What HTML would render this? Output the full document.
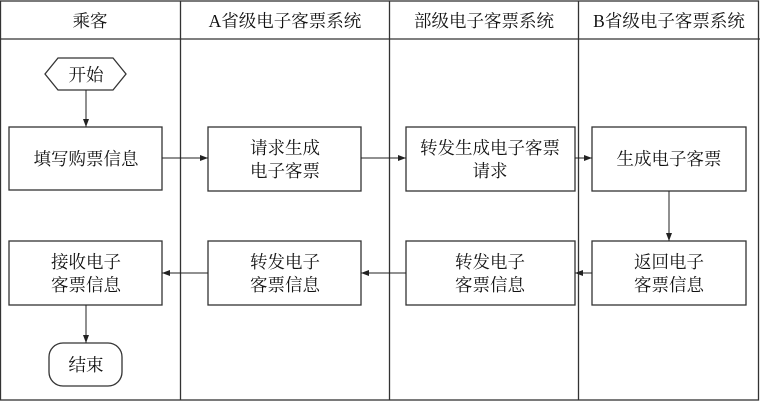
<!DOCTYPE html><html><head><meta charset="utf-8"><style>body{margin:0;background:#fff}</style></head><body>
<svg width="760" height="402" viewBox="0 0 760 402" xmlns="http://www.w3.org/2000/svg" font-family="'Liberation Serif','Noto Serif CJK SC',serif" font-size="17.5" fill="#111">
<defs><marker id="a" markerWidth="8" markerHeight="6" refX="8" refY="3" orient="auto" markerUnits="userSpaceOnUse"><path d="M0,0 L8,3 L0,6z" fill="#222"/></marker></defs>
<g stroke="#333" stroke-width="1.3" fill="none">
<rect x="0.5" y="1" width="758" height="399"/>
<line x1="0" y1="39" x2="760" y2="39"/>
<line x1="180.5" y1="1" x2="180.5" y2="400"/>
<line x1="389.5" y1="1" x2="389.5" y2="400"/>
<line x1="578.5" y1="1" x2="578.5" y2="400"/>
<polygon points="58,58 113,58 126,74 113,90 58,90 45,74"/>
<rect x="9" y="127" width="153" height="63"/>
<rect x="208" y="127" width="153" height="64"/>
<rect x="406" y="127" width="169" height="64"/>
<rect x="592" y="127" width="154" height="64"/>
<rect x="592" y="241" width="154" height="64"/>
<rect x="406" y="241" width="169" height="64"/>
<rect x="208" y="241" width="153" height="64"/>
<rect x="9" y="241" width="153" height="64"/>
<rect x="49" y="343" width="73" height="43" rx="14"/>
<g stroke="#222" stroke-width="1" marker-end="url(#a)">
<line x1="86" y1="90" x2="86" y2="127"/>
<line x1="162" y1="158" x2="208" y2="158"/>
<line x1="361" y1="158" x2="406" y2="158"/>
<line x1="575" y1="158" x2="592" y2="158"/>
<line x1="669" y1="191" x2="669" y2="241"/>
<line x1="592" y1="273" x2="575" y2="273"/>
<line x1="406" y1="273" x2="361" y2="273"/>
<line x1="208" y1="273" x2="162" y2="273"/>
<line x1="86" y1="305" x2="86" y2="343"/>
</g></g>
<g text-anchor="middle">
<text x="90" y="27">乘客</text>
<text x="285" y="27">A省级电子客票系统</text>
<text x="484" y="27">部级电子客票系统</text>
<text x="669" y="27">B省级电子客票系统</text>
<text x="86" y="81">开始</text>
<text x="86" y="165">填写购票信息</text>
<text x="285" y="154">请求生成</text><text x="285" y="177">电子客票</text>
<text x="490" y="154">转发生成电子客票</text><text x="490" y="177">请求</text>
<text x="669" y="165">生成电子客票</text>
<text x="669" y="268">返回电子</text><text x="669" y="291">客票信息</text>
<text x="490" y="268">转发电子</text><text x="490" y="291">客票信息</text>
<text x="285" y="268">转发电子</text><text x="285" y="291">客票信息</text>
<text x="86" y="268">接收电子</text><text x="86" y="291">客票信息</text>
<text x="86" y="371">结束</text>
</g></svg></body></html>
